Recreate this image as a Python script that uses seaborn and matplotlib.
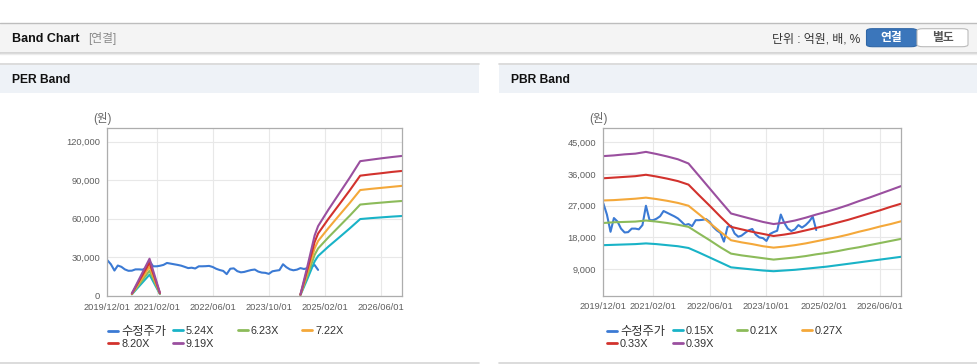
import numpy as np
import pandas as pd
import matplotlib
matplotlib.use("Agg")
import matplotlib.pyplot as plt
import seaborn as sns
from matplotlib.patches import Rectangle, FancyBboxPatch
from matplotlib.lines import Line2D
from matplotlib.ticker import StrMethodFormatter, FixedLocator

# ---------------- data ----------------
price_label = "수정주가"
# monthly adjusted price, 2019/12 .. 2024/12
price = [27700, 24500, 19600, 23500, 22500, 20500, 19400, 19500, 20500, 20500,
         20300, 21500, 27000, 22900, 22900, 23300, 24000, 25500, 25000, 24500,
         24000, 23400, 22500, 21500, 21800, 21200, 22900, 22900, 23000, 23200,
         22400, 21000, 20000, 19300, 16800, 21000, 21300, 19100, 18200, 18500,
         19300, 20000, 20400, 18800, 18000, 17800, 17000, 19000, 19500, 19900,
         24500, 22200, 20500, 19800, 20300, 21500, 20800, 21500, 22500, 23900,
         20100]

per_labels = ["5.24X", "6.23X", "7.22X", "8.20X", "9.19X"]
per_seg1_dates = ["2020-07-01", "2020-12-01", "2021-03-01"]
per_seg2_dates = ["2024-07-01", "2024-09-01", "2024-11-01", "2024-12-01",
                  "2025-03-01", "2025-06-01", "2025-09-01", "2025-12-01",
                  "2026-03-01", "2026-06-01", "2026-09-01", "2026-12-01"]
per_seg1 = {
    "5.24X": [1050, 16400, 1300],
    "6.23X": [1250, 19500, 1550],
    "7.22X": [1450, 22600, 1800],
    "8.20X": [1650, 25700, 2050],
    "9.19X": [1850, 28800, 2300],
}
per_seg2 = {
    "5.24X": [500, 13400, 26700, 30900, 38300, 45300, 52400, 59700, 60400, 61000, 61600, 62100],
    "6.23X": [600, 16000, 31800, 36800, 45500, 53900, 62300, 71000, 71800, 72500, 73200, 73800],
    "7.22X": [700, 18500, 36800, 42600, 52700, 62500, 72200, 82300, 83200, 84000, 84800, 85600],
    "8.20X": [800, 21000, 41800, 48400, 59900, 70900, 82000, 93500, 94500, 95400, 96400, 97200],
    "9.19X": [900, 23500, 46900, 54200, 67100, 79500, 91900, 104800, 105900, 107000, 108000, 108900],
}

pbr_labels = ["0.15X", "0.21X", "0.27X", "0.33X", "0.39X"]
# quarterly, 2019/12 .. 2026/12
pbr_bands = {
    "0.15X": [15800, 15900, 16000, 16100, 16300, 16100, 15800, 15500, 15000, 13700,
              12300, 10900, 9500, 9200, 8900, 8600, 8400, 8600, 8800, 9100,
              9400, 9700, 10100, 10500, 10900, 11300, 11700, 12100, 12500],
    "0.21X": [22100, 22300, 22400, 22500, 22800, 22500, 22100, 21600, 21000, 19100,
              17200, 15200, 13400, 12900, 12500, 12100, 11700, 12000, 12300, 12700,
              13200, 13600, 14100, 14700, 15200, 15800, 16400, 17000, 17600],
    "0.27X": [28500, 28600, 28800, 29000, 29300, 28900, 28400, 27800, 27000, 24600,
              22100, 19600, 17200, 16600, 16100, 15500, 15100, 15400, 15800, 16300,
              16900, 17500, 18100, 18800, 19600, 20300, 21100, 21800, 22600],
    "0.33X": [34800, 35000, 35200, 35400, 35800, 35300, 34700, 34000, 33000, 30000,
              27000, 23900, 21000, 20300, 19600, 19000, 18400, 18800, 19300, 20000,
              20700, 21400, 22200, 23000, 23900, 24800, 25700, 26700, 27600],
    "0.39X": [41100, 41300, 41600, 41800, 42300, 41700, 41000, 40200, 39000, 35500,
              31900, 28300, 24800, 24000, 23200, 22400, 21800, 22200, 22800, 23600,
              24500, 25300, 26200, 27200, 28300, 29300, 30400, 31500, 32600],
}

x_tick_labels = ["2019/12/01", "2021/02/01", "2022/06/01", "2023/10/01", "2025/02/01", "2026/06/01"]
per_yticks = [0, 30000, 60000, 90000, 120000]
pbr_yticks = [9000, 18000, 27000, 36000, 45000]

band_colors = ["#19b3c7", "#8cbb5a", "#f4a83a", "#d2322d", "#9a4f9f"]
price_color = "#3b7ad4"

# ---------------- build tables ----------------
price_dates = pd.date_range("2019-12-01", periods=len(price), freq="MS")
rows = [(d, v, price_label, 0) for d, v in zip(price_dates, price)]
for lab in per_labels:
    rows += [(pd.Timestamp(d), v, lab, 1) for d, v in zip(per_seg1_dates, per_seg1[lab])]
    rows += [(pd.Timestamp(d), v, lab, 2) for d, v in zip(per_seg2_dates, per_seg2[lab])]
per_df = pd.DataFrame(rows, columns=["date", "value", "series", "seg"])

pbr_dates = pd.date_range("2019-12-01", "2026-12-01", freq="3MS")
rows = [(d, v, price_label, 0) for d, v in zip(price_dates, price)]
for lab in pbr_labels:
    rows += [(d, v, lab, 0) for d, v in zip(pbr_dates, pbr_bands[lab])]
pbr_df = pd.DataFrame(rows, columns=["date", "value", "series", "seg"])

# ---------------- figure ----------------
sns.set_theme(style="white")
plt.rcParams["font.family"] = ["Liberation Sans", "Noto Sans CJK KR"]

W, H = 978, 364
fig = plt.figure(figsize=(W / 100, H / 100), dpi=100)
fig.patch.set_facecolor("white")


def fx(x):
    return x / W


def fy(y):
    return 1 - y / H


def rect(x0, y0, x1, y1, fc, ec="none", lw=0, z=0):
    fig.add_artist(Rectangle((fx(x0), fy(y1)), (x1 - x0) / W, (y1 - y0) / H,
                             transform=fig.transFigure, facecolor=fc,
                             edgecolor=ec, lw=lw, zorder=z))


def hline(x0, x1, y, color, lw=1.0):
    fig.add_artist(Line2D([fx(x0), fx(x1)], [fy(y), fy(y)], transform=fig.transFigure,
                          color=color, lw=lw))


# header bar
rect(0, 23, W, 52.5, "#f4f4f4")
hline(0, W, 22.5, "#bdbdbd")
hline(0, W, 52.8, "#cfcfcf", 1.2)
hline(0, W, 54.2, "#ececec", 1.0)
fig.text(fx(12), fy(38.5), "Band Chart", fontsize=9.0, fontweight="bold", color="#111",
         va="center", ha="left")
fig.text(fx(88), fy(38.5), "[연결]", fontsize=8.5, color="#8a8a8a", va="center", ha="left")
fig.text(fx(860), fy(39.5), "단위 : 억원, 배, %", fontsize=8.6, color="#333", va="center", ha="right")
fig.add_artist(FancyBboxPatch((fx(866.5), fy(46.7)), (917 - 866.5) / W, (46.7 - 28.7) / H,
                              boxstyle="round,pad=0,rounding_size=0.006",
                              transform=fig.transFigure, facecolor="#3b76bb",
                              edgecolor="#2f66a6", lw=0.8))
fig.add_artist(FancyBboxPatch((fx(917), fy(46.7)), (968 - 917) / W, (46.7 - 28.7) / H,
                              boxstyle="round,pad=0,rounding_size=0.006",
                              transform=fig.transFigure, facecolor="white",
                              edgecolor="#bbbbbb", lw=0.8))
fig.text(fx(891.7), fy(38), "연결", fontsize=8.5, fontweight="bold", color="white",
         va="center", ha="center")
fig.text(fx(942.5), fy(38), "별도", fontsize=8.5, fontweight="bold", color="#555",
         va="center", ha="center")

# panels
panels = [(0, 479, "PER Band"), (499, W, "PBR Band")]
for x0, x1, title in panels:
    rect(x0, 64.5, x1, 93, "#eef2f7")
    hline(x0, x1, 64.3, "#d6d6d6", 1.2)
    hline(x0, x1, 362.5, "#d6d6d6", 1.2)
    fig.text(fx(x0 + 12), fy(80), title, fontsize=8.7, fontweight="bold",
             color="#111", va="center", ha="left")

xticks = [pd.Timestamp(s.replace("/", "-")) for s in x_tick_labels]
xlim = (pd.Timestamp("2019-12-01"), pd.Timestamp("2026-12-01"))


def style_axis(ax, yticks, ylim):
    ax.set_xlim(*xlim)
    ax.set_ylim(*ylim)
    ax.set_xticks(xticks)
    ax.set_xticklabels(x_tick_labels)
    ax.yaxis.set_major_locator(FixedLocator(yticks))
    ax.yaxis.set_major_formatter(StrMethodFormatter("{x:,.0f}"))
    ax.grid(True, color="#e8e8e8", lw=0.8)
    ax.set_axisbelow(True)
    for sp in ax.spines.values():
        sp.set_visible(True)
        sp.set_color("#adadad")
        sp.set_linewidth(0.9)
    ax.tick_params(axis="both", length=0, labelsize=6.7, labelcolor="#5e5e5e")
    ax.tick_params(axis="y", pad=5)
    ax.tick_params(axis="x", pad=5)
    ax.set_xlabel("")
    ax.set_ylabel("")
    ax.set_facecolor("white")


def draw(ax, df, labels):
    pal = {price_label: price_color}
    pal.update(dict(zip(labels, band_colors)))
    sns.lineplot(data=df, x="date", y="value", hue="series", units="seg",
                 estimator=None, hue_order=[price_label] + labels, palette=pal,
                 lw=1.5, legend=False, ax=ax)
    return pal


def legend_cols(labels, pal, xs, top):
    cols = [[price_label, labels[3]], [labels[0], labels[4]], [labels[1]], [labels[2]]]
    for cx, col in zip(xs, cols):
        hs = [Line2D([], [], color=pal[s], lw=2) for s in col]
        spacing = 0.115 if price_label in col else 0.3
        leg = fig.legend(hs, col, loc="upper left", bbox_to_anchor=(fx(cx), fy(top)),
                         bbox_transform=fig.transFigure, frameon=False, borderpad=0,
                         borderaxespad=0, handlelength=0.92, handletextpad=0.3,
                         labelspacing=spacing, fontsize=7.8, labelcolor="#333")
        for t in leg.get_texts():
            if t.get_text() == price_label:
                t.set_fontsize(8.8)


# PER
ax1 = fig.add_axes([fx(107.3), fy(295.7), (402.3 - 107.3) / W, (295.7 - 128.3) / H])
pal1 = draw(ax1, per_df, per_labels)
style_axis(ax1, per_yticks, (0, 130400))
fig.text(fx(102.5), fy(118.3), "(원)", fontsize=8.3, color="#666", ha="center", va="center")
legend_cols(per_labels, pal1, [108, 172.7, 237.7, 302], 326)

# PBR
ax2 = fig.add_axes([fx(603.3), fy(295.5), (901.3 - 603.3) / W, (295.5 - 128.3) / H])
pal2 = draw(ax2, pbr_df, pbr_labels)
style_axis(ax2, pbr_yticks, (1500, 49000))
fig.text(fx(598), fy(118.3), "(원)", fontsize=8.3, color="#666", ha="center", va="center")
legend_cols(pbr_labels, pal2, [606.7, 672.7, 736.7, 801.7], 326)

fig.savefig("out.png", dpi=100, facecolor="white")
